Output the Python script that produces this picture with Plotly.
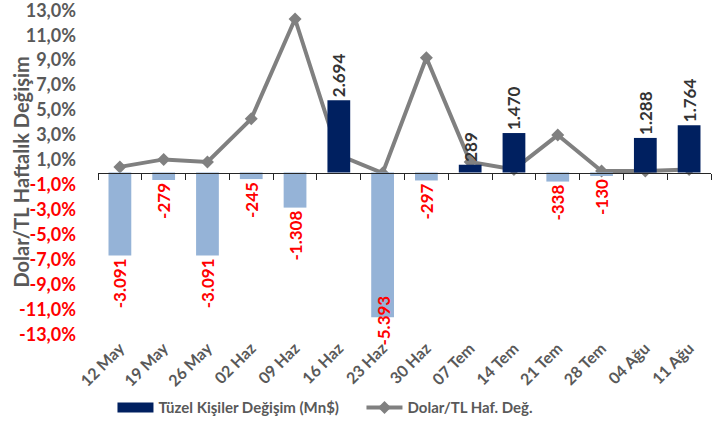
import plotly.graph_objects as go

categories = ["12 May", "19 May", "26 May", "02 Haz", "09 Haz", "16 Haz", "23 Haz",
              "30 Haz", "07 Tem", "14 Tem", "21 Tem", "28 Tem", "04 Ağu", "11 Ağu"]
tuzel_kisiler = [-3091, -279, -3091, -245, -1308, 2694, -5393, -297, 289, 1470, -338, -130, 1288, 1764]
dolar_tl = [0.45, 1.05, 0.85, 4.3, 12.3, 1.4, -0.05, 9.2, 0.85, 0.25, 3.0, 0.12, 0.12, 0.25]
y_ticks = [13, 11, 9, 7, 5, 3, 1, -1, -3, -5, -7, -9, -11, -13]

FONT = "Lato"
GRAY = "#595959"
RED = "#FF0000"
NAVY = "#002060"
LIGHT = "#95B3D7"
LBL_SIZE = 17

def fmt_num(v):
    return f"{v:,}".replace(",", ".")

def fmt_pct(v):
    s = f"{v:.1f}%".replace(".", ",")
    if v < 0:
        return f'<span style="color:{RED}">{s}</span>'
    return s

W, H = 721, 426
ML, MR, MT, MB = 98, 10, 10, 91
plot_w = W - ML - MR
plot_h = H - MT - MB
n = len(categories)
scale = 465.0
Y2MAX = 13.02 * scale
units_per_px = 2 * Y2MAX / plot_h

# labels that would run past the bottom of the plot are pulled back inside (as Excel does)
def overflows(v):
    est_len = len(fmt_num(v)) * 0.56 * LBL_SIZE * units_per_px
    return v < 0 and v - est_len < -Y2MAX

pos_vals = [v if v >= 0 else None for v in tuzel_kisiler]
neg_vals = [v if v < 0 else None for v in tuzel_kisiler]

fig = go.Figure()
# legend entry for bars (wide rectangle like the reference)
fig.add_trace(go.Scatter(x=[None], y=[None], mode="lines", name="Tüzel Kişiler Değişim (Mn$)",
                         line=dict(color=NAVY, width=12), hoverinfo="skip"))
fig.add_trace(go.Bar(
    x=categories, y=pos_vals, yaxis="y2", xaxis="x", showlegend=False,
    marker=dict(color=NAVY, line=dict(width=0)),
    width=0.52,
    text=[fmt_num(v) if v is not None else "" for v in pos_vals],
    textposition="outside", textangle=-90, constraintext="none",
    textfont=dict(family=FONT, size=LBL_SIZE, color="#333333", weight="bold"),
    cliponaxis=False,
))
fig.add_trace(go.Bar(
    x=categories, y=neg_vals, yaxis="y2", xaxis="x", showlegend=False,
    marker=dict(color=LIGHT, line=dict(width=0)),
    width=0.52,
    text=[fmt_num(v) if (v is not None and not overflows(v)) else "" for v in neg_vals],
    textposition="outside", textangle=-90, constraintext="none",
    textfont=dict(family=FONT, size=LBL_SIZE, color=RED, weight="bold"),
    cliponaxis=False,
))
fig.add_trace(go.Scatter(
    x=categories, y=dolar_tl, yaxis="y", xaxis="x",
    name="Dolar/TL Haf. Değ.", mode="lines+markers",
    line=dict(color="#808080", width=4),
    marker=dict(symbol="diamond", size=10, color="#808080"),
    cliponaxis=False,
))

annotations = [dict(text="Dolar/TL Haftalık Değişim", textangle=-90,
                    xref="paper", yref="paper", x=(20 - ML) / plot_w, y=0.5,
                    xanchor="center", yanchor="middle", showarrow=False,
                    font=dict(family=FONT, size=20, color=GRAY, weight="bold"))]
for c, v in zip(categories, tuzel_kisiler):
    if overflows(v):
        annotations.append(dict(text=fmt_num(v), textangle=-90, x=c, y=-Y2MAX,
                                xref="x", yref="y2", xanchor="center", yanchor="bottom",
                                yshift=-13, showarrow=False,
                                font=dict(family=FONT, size=LBL_SIZE, color=RED, weight="bold")))

fig.update_layout(
    width=W, height=H,
    margin=dict(l=ML, r=MR, t=MT, b=MB, autoexpand=False),
    paper_bgcolor="white", plot_bgcolor="white",
    font=dict(family=FONT, color=GRAY),
    barmode="overlay",
    showlegend=True,
    legend=dict(orientation="h", xref="container", x=0.156, yref="container", y=0.043,
                yanchor="middle", font=dict(family=FONT, size=15, color=GRAY, weight="bold"),
                traceorder="normal", itemwidth=36, entrywidth=198, entrywidthmode="pixels"),
    xaxis=dict(type="category", categoryorder="array", categoryarray=categories,
               range=[-0.5, n - 0.5], showline=False, showgrid=False, ticks="",
               automargin=False, ticklabeloverflow="allow",
               tickangle=-45, tickfont=dict(family=FONT, size=16, color=GRAY, weight="bold")),
    xaxis2=dict(overlaying="x", anchor="free", position=0.5, range=[-0.5, n - 0.5],
                tickvals=[i - 0.5 for i in range(n + 1)], showticklabels=False,
                ticks="outside", ticklen=6, tickcolor="#262626", showline=True,
                linecolor="#262626", linewidth=1, showgrid=False, zeroline=False),
    yaxis=dict(range=[-13.02, 13.02], tickvals=y_ticks, ticktext=[fmt_pct(v) for v in y_ticks],
               showgrid=False, zeroline=False, showline=False, ticks="",
               ticklabelstandoff=21, automargin=False, ticklabeloverflow="allow",
               tickfont=dict(family=FONT, size=18, color=GRAY, weight="bold")),
    yaxis2=dict(overlaying="y", range=[-Y2MAX, Y2MAX], visible=False),
    annotations=annotations,
)
fig.add_trace(go.Scatter(x=[None], y=[None], xaxis="x2", showlegend=False, hoverinfo="skip"))

fig.write_html("out.html", config={"displayModeBar": False},
               post_script="document.body.style.margin='0px';")
